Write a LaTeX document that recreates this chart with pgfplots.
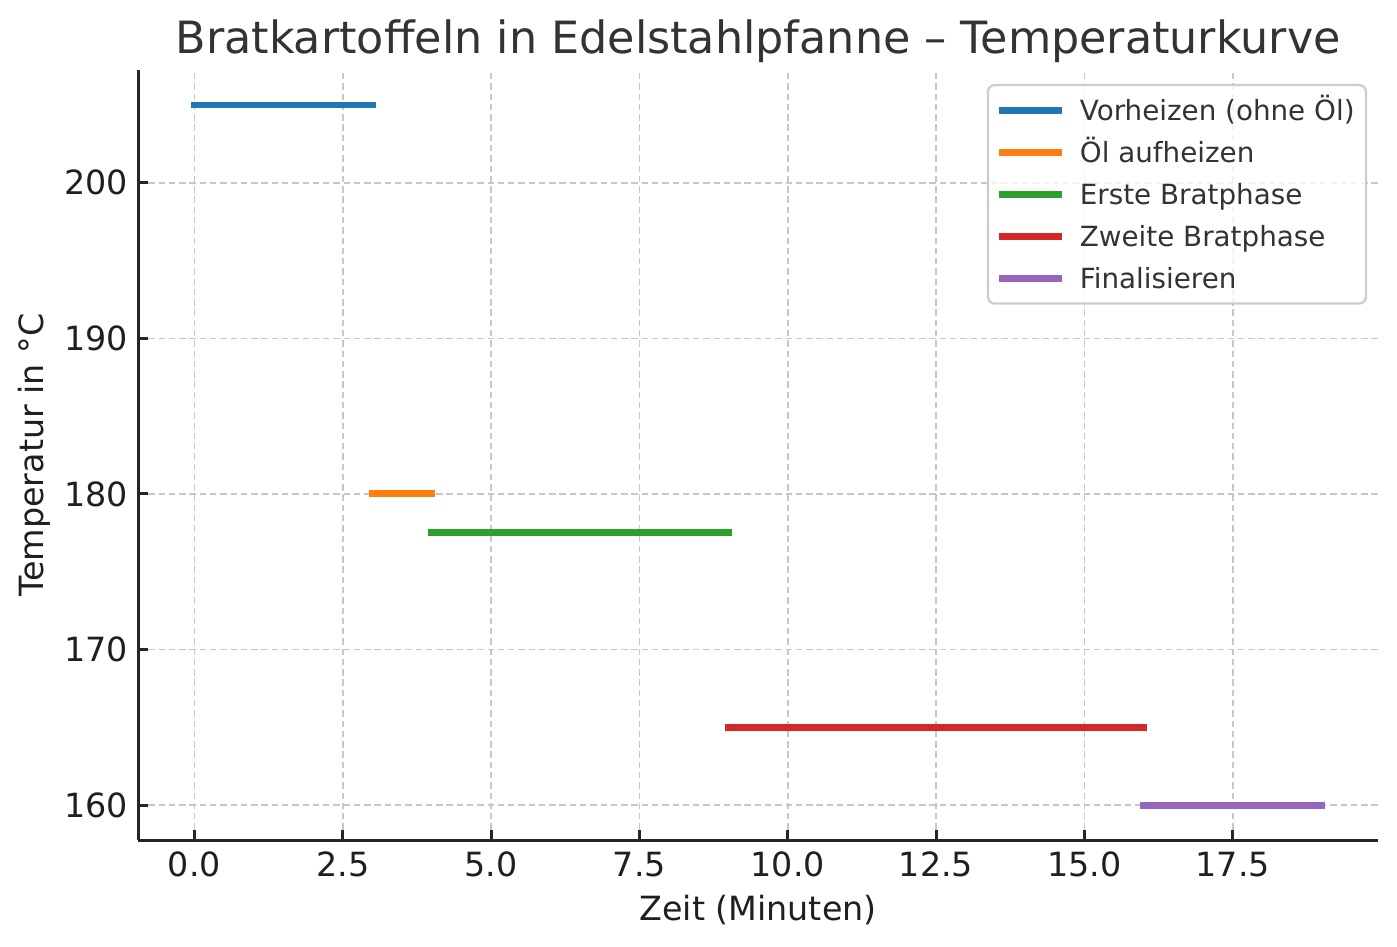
\documentclass[border=0pt]{standalone}
\usepackage{fontspec}
\setmainfont{DejaVu Sans}
\usepackage{pgfplots}
\pgfplotsset{compat=1.18}

\definecolor{tabblue}{HTML}{1F77B4}
\definecolor{taborange}{HTML}{FF7F0E}
\definecolor{tabgreen}{HTML}{2CA02C}
\definecolor{tabred}{HTML}{D62728}
\definecolor{tabpurple}{HTML}{9467BD}

\begin{document}
\begin{tikzpicture}
	\path[use as bounding box] (-49.7pt,-38.5pt) rectangle (453.2pt,302.4pt);
	\begin{axis}[
		width=446.4pt,
		height=277.2pt,
		scale only axis,
		xmin=-0.95, xmax=19.95,
		ymin=157.75, ymax=207.25,
		axis x line*=bottom,
		axis y line*=left,
		axis line style={line width=1.1pt, black!85},
		tick align=inside,
		major tick length=3.6pt,
		tick style={line width=1.1pt, black!85},
		xtick={0,2.5,5,7.5,10,12.5,15,17.5},
		xticklabels={0.0,2.5,5.0,7.5,10.0,12.5,15.0,17.5},
		ytick={160,170,180,190,200},
		yticklabels={160,170,180,190,200},
		grid=major,
		major grid style={black!22, line width=0.6pt, dash pattern=on 2.3pt off 1.4pt},
		tick label style={font=\fontsize{12}{14}\selectfont, text=black!88},
		xticklabel style={anchor=base, yshift=-12.96pt, inner sep=0pt},
		yticklabel style={anchor=east, xshift=-3.5pt, inner sep=0pt},
		label style={font=\fontsize{12}{14}\selectfont, text=black!88},
		xlabel={Zeit (Minuten)},
		xlabel style={at={(axis description cs:0.5,-0.1039)}, anchor=base, inner sep=0pt},
		ylabel={Temperatur in °C},
		ylabel style={at={(axis description cs:-0.0766,0.5)}, anchor=base, inner sep=0pt},
		title={Bratkartoffeln in Edelstahlpfanne – Temperaturkurve},
		title style={at={(axis description cs:0.5,1.0)}, anchor=base, inner sep=0pt,
			font=\fontsize{16}{19}\selectfont, text=black!80},
		legend cell align=left,
		legend image code/.code={\draw[#1] (0pt,0pt) -- (20.2pt,0pt);},
		legend style={
				at={(axis description cs:0.9911,0.982)},
				anchor=north east,
				draw=black!20,
				line width=0.8pt,
				rounded corners=2.5pt,
				fill=white,
				fill opacity=0.8,
				text opacity=1,
				font=\fontsize{10}{12}\selectfont,
				text=black!80,
				inner xsep=4.1pt,
				inner ysep=5.5pt,
				row sep=7.8pt,
				column sep=6.3pt,
				nodes={inner sep=0pt, text height=7.3pt, text depth=0pt},
			},
		]
		% Vorheizen
		\addplot[tabblue, line width=2.5pt, line cap=rect] coordinates {(0,205) (3,205)};
		\addlegendentry{Vorheizen (ohne Öl)}
		% Öl
		\addplot[taborange, line width=2.5pt, line cap=rect] coordinates {(3,180) (4,180)};
		\addlegendentry{Öl aufheizen}
		% erste Phase
		\addplot[tabgreen, line width=2.5pt, line cap=rect] coordinates {(4,177.5) (9,177.5)};
		\addlegendentry{Erste Bratphase}
		% zweite Phase
		\addplot[tabred, line width=2.5pt, line cap=rect] coordinates {(9,165) (16,165)};
		\addlegendentry{Zweite Bratphase}
		% Finalisieren
		\addplot[tabpurple, line width=2.5pt, line cap=rect] coordinates {(16,160) (19,160)};
		\addlegendentry{Finalisieren}
	\end{axis}
\end{tikzpicture}
\end{document}
